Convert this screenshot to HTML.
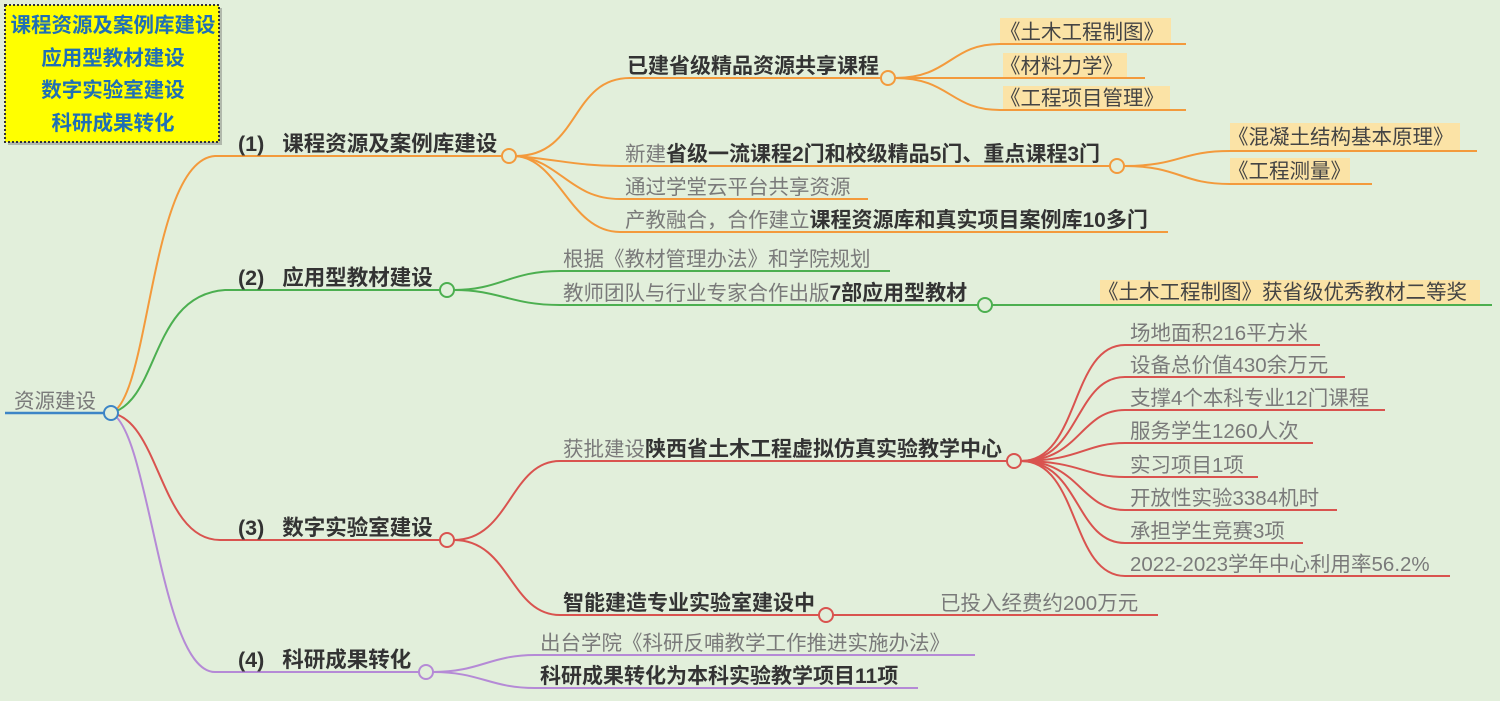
<!DOCTYPE html>
<html><head><meta charset="utf-8"><style>
html,body{margin:0;padding:0;background:#e2efdb;width:1500px;height:701px;overflow:hidden}
svg{display:block}
text{font-family:"Liberation Sans","Noto Sans CJK SC",sans-serif;font-size:20.5px}
.b{font-weight:bold;fill:#333;font-size:21px}
.g{fill:#7a7a7a}
.y{fill:#444}
.h{font-size:21.5px;font-weight:bold;fill:#333}
</style></head><body>
<svg width="1500" height="701" viewBox="0 0 1500 701">
<rect width="1500" height="701" fill="#e2efdb"/>
<rect x="8" y="8" width="214" height="137" fill="#555" opacity="0.35"/>
<rect x="5" y="5" width="214" height="137" fill="#ffff00" stroke="#333" stroke-width="2" stroke-dasharray="2,2"/>
<text x="113" y="32" fill="#1f6fb5" font-weight="bold" font-size="19" text-anchor="middle">课程资源及案例库建设</text>
<text x="113" y="65" fill="#1f6fb5" font-weight="bold" font-size="19" text-anchor="middle">应用型教材建设</text>
<text x="113" y="97" fill="#1f6fb5" font-weight="bold" font-size="19" text-anchor="middle">数字实验室建设</text>
<text x="113" y="130" fill="#1f6fb5" font-weight="bold" font-size="19" text-anchor="middle">科研成果转化</text>
<line x1="5" y1="413" x2="104" y2="413" stroke="#3d85c6" stroke-width="2.5"/>
<text x="14" y="408" class="g" font-size="20">资源建设</text>
<g fill="none" stroke-width="2">
<path d="M111 413 C150 400,150 160,215 156 L502 156" stroke="#f39a3c"/>
<path d="M111 413 C160 400,150 295,225 290 L440 290" stroke="#4caf50"/>
<path d="M111 413 C160 420,160 540,220 540 L440 540" stroke="#d9534f"/>
<path d="M111 413 C150 430,160 672,215 672 L419 672" stroke="#b58ad6"/>
<g stroke="#f39a3c">
<path d="M516 156 C580 156,570 78,630 78 L881 78"/>
<path d="M516 156 C560 160,580 166,620 166 L1110 166"/>
<path d="M516 156 C560 160,570 199,620 199 L868 199"/>
<path d="M516 156 C560 160,570 232,620 232 L1168 232"/>
<path d="M895 78 C950 78,950 44,1000 44 L1186 44"/>
<path d="M895 78 L1145 78"/>
<path d="M895 78 C950 78,950 110,1000 110 L1186 110"/>
<path d="M1124 166 C1180 166,1180 151,1230 151 L1477 151"/>
<path d="M1124 166 C1180 166,1180 184,1230 184 L1372 184"/>
</g>
<g stroke="#4caf50">
<path d="M454 290 C500 290,510 271,560 271 L890 271"/>
<path d="M454 290 C500 290,510 305,560 305 L978 305"/>
<path d="M992 305 L1492 305"/>
</g>
<g stroke="#d9534f">
<path d="M454 540 C510 540,510 461,560 461 L1007 461"/>
<path d="M454 540 C510 540,510 615,560 615 L819 615"/>
<path d="M833 615 L1158 615"/>
<path d="M1021 461 C1080 461,1070 345,1125 345 L1320 345"/>
<path d="M1021 461 C1080 461,1075 377,1125 377 L1345 377"/>
<path d="M1021 461 C1080 461,1080 410,1125 410 L1385 410"/>
<path d="M1021 461 C1080 461,1085 443,1125 443 L1313 443"/>
<path d="M1021 461 C1080 461,1085 477,1125 477 L1258 477"/>
<path d="M1021 461 C1080 461,1080 510,1125 510 L1337 510"/>
<path d="M1021 461 C1080 461,1075 543,1125 543 L1303 543"/>
<path d="M1021 461 C1080 461,1070 576,1125 576 L1450 576"/>
</g>
<g stroke="#b58ad6">
<path d="M433 672 C480 672,490 655,535 655 L975 655"/>
<path d="M433 672 C480 672,490 688,535 688 L918 688"/>
</g>
</g>
<g fill="#e2efdb" stroke-width="2">
<circle cx="111" cy="413" r="7" stroke="#3d85c6"/>
<circle cx="509" cy="156" r="7" stroke="#f39a3c"/>
<circle cx="888" cy="78" r="7" stroke="#f39a3c"/>
<circle cx="1117" cy="166" r="7" stroke="#f39a3c"/>
<circle cx="447" cy="290" r="7" stroke="#4caf50"/>
<circle cx="985" cy="305" r="7" stroke="#4caf50"/>
<circle cx="447" cy="540" r="7" stroke="#d9534f"/>
<circle cx="1014" cy="461" r="7" stroke="#d9534f"/>
<circle cx="826" cy="615" r="7" stroke="#d9534f"/>
<circle cx="426" cy="672" r="7" stroke="#b58ad6"/>
</g>
<g fill="#fbe3a6">
<rect x="1000" y="18" width="171" height="25"/>
<rect x="1003" y="53" width="124" height="24"/>
<rect x="1003" y="86" width="167" height="23"/>
<rect x="1230" y="123" width="230" height="27"/>
<rect x="1230" y="158" width="120" height="25"/>
<rect x="1100" y="280" width="380" height="24"/>
</g>
<text x="238" y="151" class="h">(1)&#160;&#160; 课程资源及案例库建设</text>
<text x="238" y="285" class="h">(2)&#160;&#160; 应用型教材建设</text>
<text x="238" y="535" class="h">(3)&#160;&#160; 数字实验室建设</text>
<text x="238" y="667" class="h">(4)&#160;&#160; 科研成果转化</text>
<text x="627" y="73" class="b">已建省级精品资源共享课程</text>
<text x="1000" y="39" class="y">《土木工程制图》</text>
<text x="1000" y="73" class="y">《材料力学》</text>
<text x="1000" y="105" class="y">《工程项目管理》</text>
<text x="625" y="161" class="g">新建<tspan class="b">省级一流课程2门和校级精品5门、重点课程3门</tspan></text>
<text x="1228" y="144" class="y">《混凝土结构基本原理》</text>
<text x="1228" y="178" class="y">《工程测量》</text>
<text x="625" y="194" class="g">通过学堂云平台共享资源</text>
<text x="625" y="227" class="g">产教融合，合作建立<tspan class="b">课程资源库和真实项目案例库10多门</tspan></text>
<text x="563" y="266" class="g">根据《教材管理办法》和学院规划</text>
<text x="563" y="300" class="g">教师团队与行业专家合作出版<tspan class="b">7部应用型教材</tspan></text>
<text x="1098" y="299" class="y">《土木工程制图》获省级优秀教材二等奖</text>
<text x="563" y="456" class="g">获批建设<tspan class="b">陕西省土木工程虚拟仿真实验教学中心</tspan></text>
<text x="1130" y="340" class="g">场地面积216平方米</text>
<text x="1130" y="372" class="g">设备总价值430余万元</text>
<text x="1130" y="405" class="g">支撑4个本科专业12门课程</text>
<text x="1130" y="438" class="g">服务学生1260人次</text>
<text x="1130" y="472" class="g">实习项目1项</text>
<text x="1130" y="505" class="g">开放性实验3384机时</text>
<text x="1130" y="538" class="g">承担学生竞赛3项</text>
<text x="1130" y="571" class="g">2022-2023学年中心利用率56.2%</text>
<text x="563" y="610" class="b">智能建造专业实验室建设中</text>
<text x="940" y="610" class="g">已投入经费约200万元</text>
<text x="540" y="650" class="g">出台学院《科研反哺教学工作推进实施办法》</text>
<text x="540" y="683" class="b">科研成果转化为本科实验教学项目11项</text>
</svg>
</body></html>
